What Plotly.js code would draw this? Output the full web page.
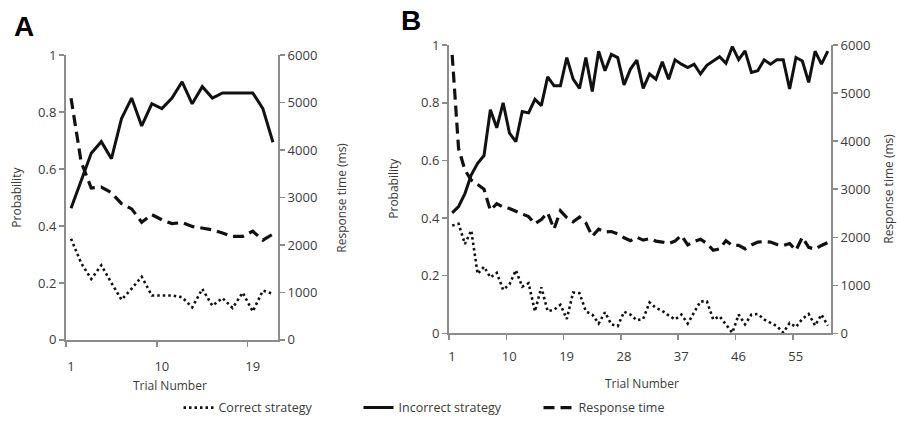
<!DOCTYPE html>
<html>
<head>
<meta charset="utf-8">
<script src="https://cdn.plot.ly/plotly-3.0.1.min.js"></script>
<style>html,body{margin:0;padding:0;background:#fff;}#chart{width:897px;height:423px;}</style>
</head>
<body>
<div id="chart"></div>
<script>
// ---- Panel A data (21 trials) ----
const trialsA = [1,2,3,4,5,6,7,8,9,10,11,12,13,14,15,16,17,18,19,20,21];
const correctA = [0.355,0.27,0.214,0.262,0.20,0.141,0.18,0.222,0.156,0.156,0.156,0.15,0.114,0.179,0.12,0.147,0.112,0.166,0.10,0.173,0.162];
const incorrectA = [0.462,0.56,0.655,0.696,0.636,0.777,0.849,0.751,0.829,0.812,0.849,0.906,0.829,0.889,0.849,0.867,0.867,0.867,0.867,0.812,0.694];
const rtA = [5090,3750,3200,3220,3100,2870,2760,2480,2640,2530,2450,2470,2390,2350,2320,2250,2180,2180,2290,2100,2230];
const tickLabelsA = ['1','10','19'];

// ---- Panel B data (60 trials) ----
const trialsB = Array.from({length:60},(_,i)=>i+1);
const correctB = [0.374,0.38,0.31,0.357,0.206,0.231,0.194,0.21,0.151,0.17,
  0.219,0.162,0.174,0.076,0.16,0.077,0.082,0.099,0.05,0.142,
  0.139,0.076,0.065,0.034,0.073,0.031,0.025,0.075,0.065,0.045,
  0.05,0.107,0.088,0.078,0.062,0.048,0.065,0.034,0.073,0.111,
  0.111,0.048,0.059,0.031,0.002,0.065,0.031,0.065,0.067,0.048,
  0.036,0.025,0.002,0.036,0.022,0.05,0.067,0.027,0.065,0.027];
const incorrectB = [0.418,0.44,0.485,0.55,0.59,0.617,0.776,0.713,0.80,0.695,
  0.665,0.77,0.765,0.812,0.79,0.89,0.859,0.859,0.957,0.882,
  0.85,0.957,0.839,0.979,0.911,0.968,0.957,0.862,0.917,0.948,
  0.85,0.9,0.882,0.942,0.882,0.949,0.934,0.922,0.934,0.9,
  0.93,0.945,0.96,0.937,0.995,0.95,0.98,0.905,0.911,0.949,
  0.934,0.949,0.949,0.848,0.957,0.945,0.871,0.979,0.934,0.979];
const rtB = [5800,3850,3400,3190,3100,3000,2560,2700,2630,2600,
  2540,2480,2430,2280,2370,2510,2170,2550,2410,2320,
  2420,2300,2020,2170,2110,2120,2070,1990,1930,2000,
  1940,1970,1920,1900,1870,1920,2040,1840,1910,1960,
  1870,1730,1760,1930,1830,1830,1760,1840,1900,1910,
  1900,1850,1830,1870,1730,2000,1790,1750,1830,1890];
const tickLabelsB = ['1','10','19','28','37','46','55'];

const seriesNames = ['Correct strategy','Incorrect strategy','Response time'];
const yTitleLeft = 'Probability';
const yTitleRight = 'Response time (ms)';
const xTitle = 'Trial Number';

const FONT = 'Open Sans, sans-serif';
const TXT = '#3a3a3a';
const AX = '#8c8c8c';

const dotLine = {color:'#111', width:2.6, dash:'2.5px,3px'};
const solidLine = {color:'#111', width:3};
const dashLine = {color:'#111', width:3.2, dash:'11px,6px'};

const traces = [
  {x:trialsA, y:correctA, xaxis:'x', yaxis:'y', mode:'lines', line:dotLine, name:seriesNames[0]},
  {x:trialsA, y:incorrectA, xaxis:'x', yaxis:'y', mode:'lines', line:solidLine, name:seriesNames[1]},
  {x:trialsA, y:rtA, xaxis:'x', yaxis:'y2', mode:'lines', line:dashLine, name:seriesNames[2]},
  {x:trialsB, y:correctB, xaxis:'x2', yaxis:'y3', mode:'lines', line:dotLine, name:seriesNames[0], showlegend:false},
  {x:trialsB, y:incorrectB, xaxis:'x2', yaxis:'y3', mode:'lines', line:solidLine, name:seriesNames[1], showlegend:false},
  {x:trialsB, y:rtB, xaxis:'x2', yaxis:'y4', mode:'lines', line:dashLine, name:seriesNames[2], showlegend:false}
];

function tickPos(labels){ return labels.map(l => Number(l) - 0.5); }

const baseY = {
  showgrid:false, zeroline:false, showline:true, linecolor:AX, linewidth:2,
  ticks:'outside', ticklen:5, tickwidth:1.5, tickcolor:AX,
  tickfont:{family:FONT, size:13, color:TXT}, fixedrange:true
};
const baseX = {
  showgrid:false, zeroline:false, showline:true, linecolor:AX, linewidth:2,
  ticks:'outside', ticklen:5, tickwidth:1.5, tickcolor:AX,
  tickfont:{family:FONT, size:13, color:TXT}, tickmode:'array', fixedrange:true
};

const W = 897, H = 423;
const titleFont = {family:FONT, size:12, color:TXT};
function yTitle(text, xpx, ypx){
  return {text:text, xref:'paper', yref:'paper', x:xpx/W, y:1-ypx/H, xanchor:'center', yanchor:'middle',
    textangle:-90, showarrow:false, font:titleFont};
}
function xTitleAnn(text, xpx, ypx){
  return {text:text, xref:'paper', yref:'paper', x:xpx/W, y:1-ypx/H, xanchor:'center', yanchor:'middle',
    showarrow:false, font:titleFont};
}

const layout = {
  width:W, height:H,
  margin:{l:0, r:0, t:0, b:0},
  paper_bgcolor:'#fff', plot_bgcolor:'#fff',
  font:{family:FONT, color:TXT},
  showlegend:true,
  legend:{orientation:'h', x:0.5, xanchor:'center', y:0.024, yanchor:'middle',
    font:{family:FONT, size:12.5, color:TXT}, entrywidth:135, entrywidthmode:'pixels', tracegroupgap:0},
  xaxis:Object.assign({}, baseX, {
    domain:[66/W, 278/W], anchor:'y', range:[0.5, 21.5],
    tickvals:tickPos(tickLabelsA), ticktext:tickLabelsA, ticklabelshift:5, ticklabelstandoff:8
  }),
  yaxis:Object.assign({}, baseY, {
    domain:[1-344/H, 1-55.7/H], anchor:'x', range:[0,1], dtick:0.2
  }),
  yaxis2:Object.assign({}, baseY, {
    overlaying:'y', side:'right', anchor:'x', range:[0,6000], dtick:1000
  }),
  xaxis2:Object.assign({}, baseX, {
    domain:[449/W, 831/W], anchor:'y3', range:[0.5, 60.5],
    tickvals:tickPos(tickLabelsB), ticktext:tickLabelsB, ticklabelshift:3, ticklabelstandoff:5
  }),
  yaxis3:Object.assign({}, baseY, {
    domain:[1-337.3/H, 1-45.7/H], anchor:'x2', range:[0,1], dtick:0.2
  }),
  yaxis4:Object.assign({}, baseY, {
    overlaying:'y3', side:'right', anchor:'x2', range:[0,6000], dtick:1000
  }),
  annotations:[
    {text:'<b>A</b>', xref:'paper', yref:'paper', x:24/W, y:1-27/H, xanchor:'center', yanchor:'middle',
     showarrow:false, font:{family:'Liberation Sans, Arial, sans-serif', size:28, color:'#000'}},
    {text:'<b>B</b>', xref:'paper', yref:'paper', x:411/W, y:1-21/H, xanchor:'center', yanchor:'middle',
     showarrow:false, font:{family:'Liberation Sans, Arial, sans-serif', size:28, color:'#000'}},
    yTitle(yTitleLeft, 17, 200),
    yTitle(yTitleRight, 342, 200),
    yTitle(yTitleLeft, 394, 191),
    yTitle(yTitleRight, 889, 191),
    xTitleAnn(xTitle, 170, 390),
    xTitleAnn(xTitle, 642, 388)
  ]
};

Plotly.newPlot('chart', traces, layout, {displayModeBar:false, staticPlot:true});
</script>
</body>
</html>
